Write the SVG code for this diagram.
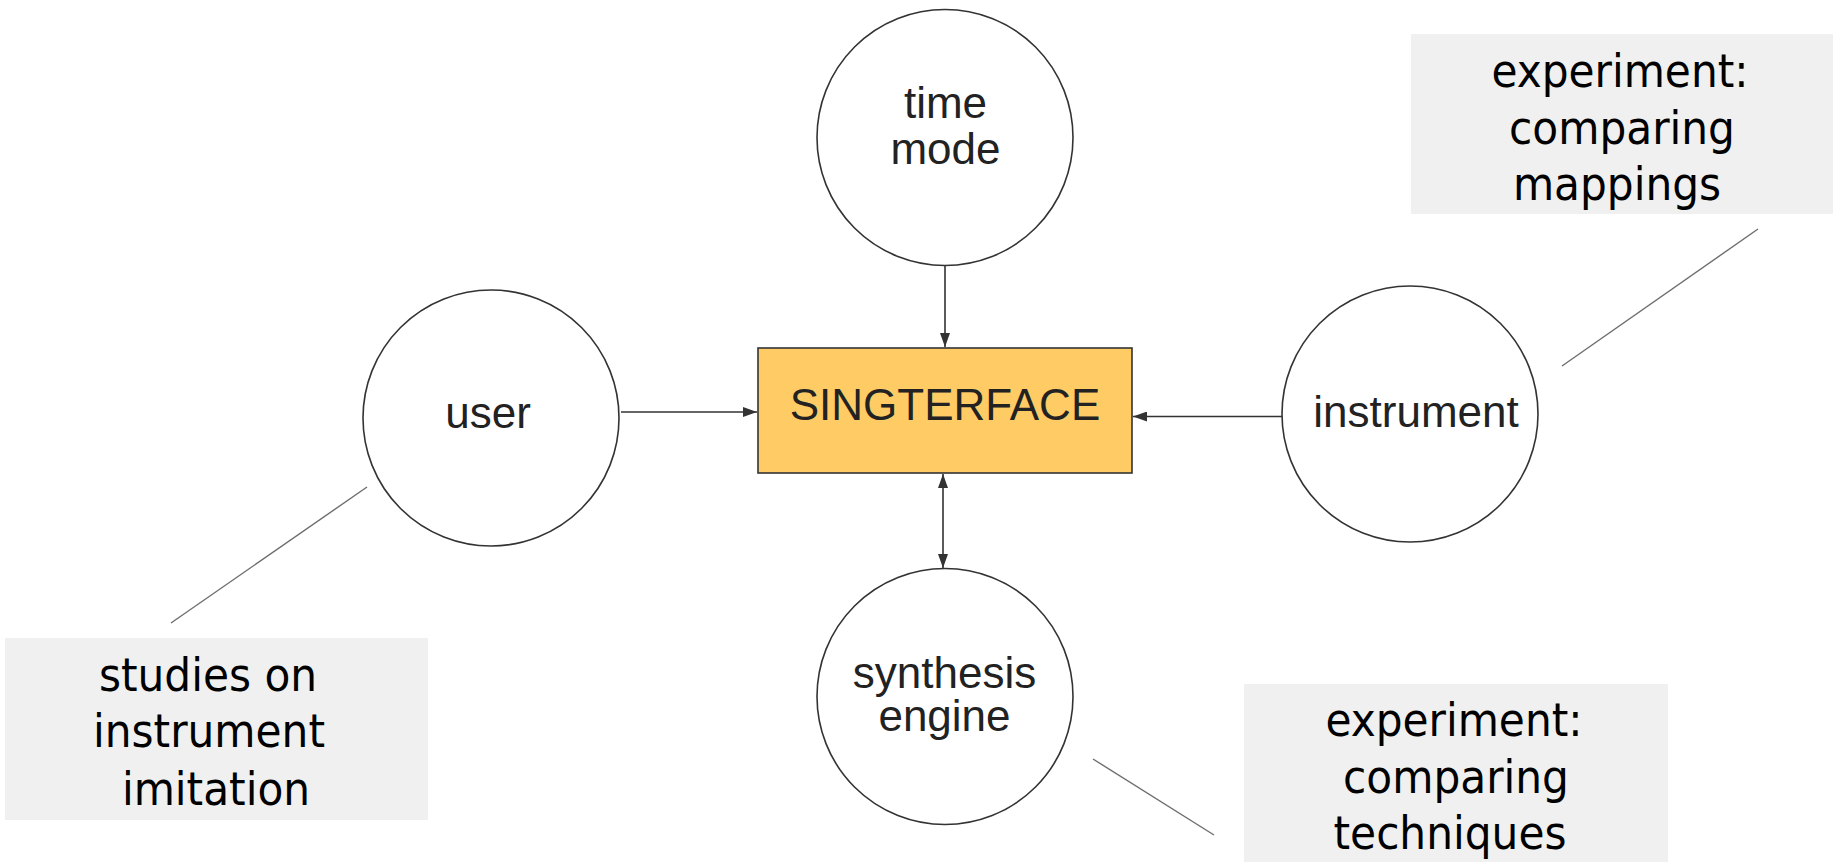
<svg xmlns="http://www.w3.org/2000/svg" width="1833" height="862" viewBox="0 0 1833 862">
  <style>
    .node { fill: #ffffff; stroke: #333333; stroke-width: 1.6; }
    .core { fill: #fecb65; stroke: #333333; stroke-width: 1.6; }
    .lbl { font-family: "Liberation Sans", Arial, sans-serif; font-size: 44px; fill: #222222; text-anchor: middle; }
    .note { fill: #f0f0f0; }
    .notetxt { font-family: "DejaVu Sans Condensed", "DejaVu Sans", sans-serif; font-stretch: condensed; font-size: 47px; fill: #000000; text-anchor: middle; }
    .edge { stroke: #333333; stroke-width: 1.6; fill: none; }
    .leader { stroke: #6e6e6e; stroke-width: 1.4; fill: none; }
  </style>
  <defs>
    <marker id="arrow" markerUnits="userSpaceOnUse" markerWidth="14" markerHeight="10" refX="14" refY="5" orient="auto-start-reverse">
      <path d="M0,0 L14,5 L0,10 z" fill="#333333"/>
    </marker>
  </defs>
  <rect width="1833" height="862" fill="#ffffff"/>

  <!-- connectors -->
  <g id="connectors">
    <line class="edge" x1="945" y1="266" x2="945" y2="347" marker-end="url(#arrow)"/>
    <line class="edge" x1="621" y1="412" x2="757" y2="412" marker-end="url(#arrow)"/>
    <line class="edge" x1="1282" y1="416.5" x2="1133" y2="416.5" marker-end="url(#arrow)"/>
    <line class="edge" x1="943" y1="474" x2="943" y2="568" marker-start="url(#arrow)" marker-end="url(#arrow)"/>
    <line class="leader" x1="367" y1="487" x2="171" y2="623"/>
    <line class="leader" x1="1758" y1="229" x2="1562" y2="366"/>
    <line class="leader" x1="1093" y1="759" x2="1214" y2="835"/>
  </g>

  <g id="time-mode">
    <circle class="node" cx="945" cy="137.5" r="128"/>
    <text class="lbl" x="945.5" y="118">time</text>
    <text class="lbl" x="945.5" y="164">mode</text>
  </g>

  <g id="singterface">
    <rect class="core" x="758" y="348" width="374" height="125"/>
    <text class="lbl" x="945" y="420">SINGTERFACE</text>
  </g>

  <g id="user">
    <circle class="node" cx="491" cy="418" r="128"/>
    <text class="lbl" x="488" y="428">user</text>
  </g>

  <g id="instrument">
    <circle class="node" cx="1410" cy="414" r="128"/>
    <text class="lbl" x="1416" y="427">instrument</text>
  </g>

  <g id="synthesis-engine">
    <circle class="node" cx="945" cy="696.5" r="128"/>
    <text class="lbl" x="944.5" y="688">synthesis</text>
    <text class="lbl" x="944.5" y="731">engine</text>
  </g>

  <g id="note-mappings">
    <rect class="note" x="1411" y="34" width="422" height="180"/>
    <text class="notetxt" x="1620" y="87">experiment:</text>
    <text class="notetxt" x="1622" y="144">comparing</text>
    <text class="notetxt" x="1617" y="200">mappings</text>
  </g>

  <g id="note-studies">
    <rect class="note" x="5" y="638" width="423" height="182"/>
    <text class="notetxt" x="208" y="691">studies on</text>
    <text class="notetxt" x="209" y="747">instrument</text>
    <text class="notetxt" x="216" y="805">imitation</text>
  </g>

  <g id="note-techniques">
    <rect class="note" x="1244" y="684" width="424" height="178"/>
    <text class="notetxt" x="1454" y="736">experiment:</text>
    <text class="notetxt" x="1456" y="793">comparing</text>
    <text class="notetxt" x="1450" y="849">techniques</text>
  </g>
</svg>
